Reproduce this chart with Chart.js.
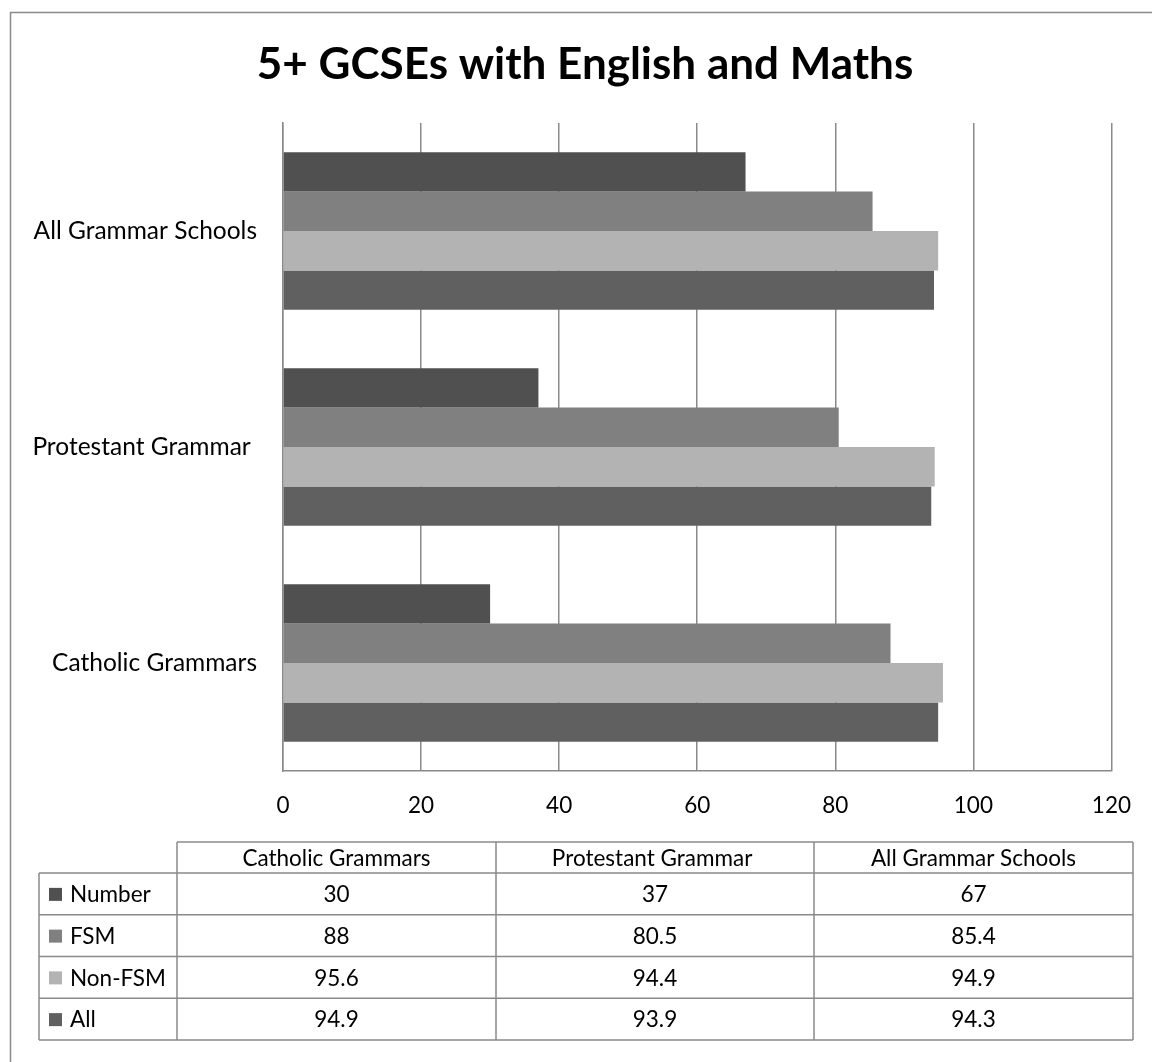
<!DOCTYPE html>
<html><head><meta charset="utf-8">
<script src="https://cdn.jsdelivr.net/npm/chart.js@4"></script>
<style>html,body{margin:0;padding:0;background:#fff}canvas{display:block}</style>
</head><body>
<canvas id="c" width="1152" height="1062"></canvas>
<script>
const categories = ['Catholic Grammars', 'Protestant Grammar ', 'All Grammar Schools'];
const seriesNames = ['Number', 'FSM', 'Non-FSM', 'All'];
const numberVals = [30, 37, 67];
const fsmVals = [88, 80.5, 85.4];
const nonFsmVals = [95.6, 94.4, 94.9];
const allVals = [94.9, 93.9, 94.3];
const xTicks = [0, 20, 40, 60, 80, 100, 120];
const titleText = '5+ GCSEs with English and Maths';
const seriesColors = ['#505050', '#808080', '#b3b3b3', '#606060'];

const FONT = 'Lato, "Open Sans", sans-serif';
const GRID = '#8a8a8a';

const seriesValues = [numberVals, fsmVals, nonFsmVals, allVals];

const decorPlugin = {
  id: 'decor',
  beforeDraw(chart) {
    const ctx = chart.ctx;
    ctx.save();
    ctx.fillStyle = '#fff';
    ctx.fillRect(0, 0, chart.width, chart.height);
    ctx.strokeStyle = '#8a8a8a';
    ctx.lineWidth = 1.5;
    ctx.beginPath();
    ctx.moveTo(10.5, chart.height + 5);
    ctx.lineTo(10.5, 12.5);
    ctx.lineTo(chart.width + 5, 12.5);
    ctx.stroke();
    ctx.fillStyle = '#000';
    ctx.font = 'bold 44px ' + FONT;
    ctx.textAlign = 'center';
    ctx.textBaseline = 'alphabetic';
    ctx.fillText(titleText, 585, 79);
    ctx.restore();
  },
  afterDraw(chart) {
    const ctx = chart.ctx;
    ctx.save();
    const colX = [177, 496, 814, 1133];
    const labelLeft = 39;
    const headTop = 842, rowTop = 873, rowH = 41.75;
    const nRows = seriesNames.length;
    const bottom = rowTop + rowH * nRows;
    ctx.strokeStyle = GRID;
    ctx.lineWidth = 1.5;
    ctx.beginPath();
    ctx.moveTo(colX[0], headTop); ctx.lineTo(colX[3], headTop);
    for (let r = 0; r <= nRows; r++) {
      const y = rowTop + rowH * r;
      ctx.moveTo(labelLeft, y); ctx.lineTo(colX[3], y);
    }
    ctx.moveTo(labelLeft, rowTop); ctx.lineTo(labelLeft, bottom);
    colX.forEach(x => { ctx.moveTo(x, headTop); ctx.lineTo(x, bottom); });
    ctx.stroke();

    ctx.fillStyle = '#000';
    ctx.font = '22.5px ' + FONT;
    ctx.textBaseline = 'middle';
    ctx.textAlign = 'center';
    categories.forEach((c, i) => {
      ctx.fillText(c, (colX[i] + colX[i + 1]) / 2, (headTop + rowTop) / 2 + 1);
    });
    seriesNames.forEach((s, r) => {
      const yc = rowTop + rowH * r + rowH / 2 + 1;
      ctx.fillStyle = seriesColors[r];
      ctx.fillRect(49, yc - 7, 13, 13);
      ctx.fillStyle = '#000';
      ctx.textAlign = 'left';
      ctx.fillText(s, 70, yc);
      ctx.textAlign = 'center';
      seriesValues[r].forEach((v, i) => {
        ctx.fillText(String(v), (colX[i] + colX[i + 1]) / 2, yc);
      });
    });
    ctx.restore();
  }
};

new Chart(document.getElementById('c'), {
  type: 'bar',
  data: {
    labels: categories,
    datasets: seriesNames.map((name, i) => ({
      label: name,
      data: seriesValues[i],
      backgroundColor: seriesColors[i],
      borderWidth: 0,
      categoryPercentage: 0.73,
      barPercentage: 1.0
    }))
  },
  options: {
    indexAxis: 'y',
    responsive: false,
    animation: false,
    devicePixelRatio: 1,
    layout: { padding: { top: 123, left: 0, right: 40, bottom: 231 } },
    plugins: { legend: { display: false }, title: { display: false }, tooltip: { enabled: false } },
    scales: {
      x: {
        min: 0, max: 120,
        afterBuildTicks(scale) { scale.ticks = xTicks.map(v => ({ value: v })); },
        afterFit(scale) { scale.height = 60; },
        ticks: { color: '#000', font: { family: FONT, size: 22.5 }, padding: 21, maxRotation: 0 },
        grid: { color: GRID, lineWidth: 1.5, drawTicks: false },
        border: { display: true, color: GRID, width: 1.5 }
      },
      y: {
        reverse: true,
        afterFit(scale) { scale.width = 283; },
        ticks: { color: '#000', font: { family: FONT, size: 24.5 }, padding: 26 },
        grid: { display: false, drawTicks: false },
        border: { display: true, color: GRID, width: 1.5 }
      }
    }
  },
  plugins: [decorPlugin]
});
</script>
</body></html>
